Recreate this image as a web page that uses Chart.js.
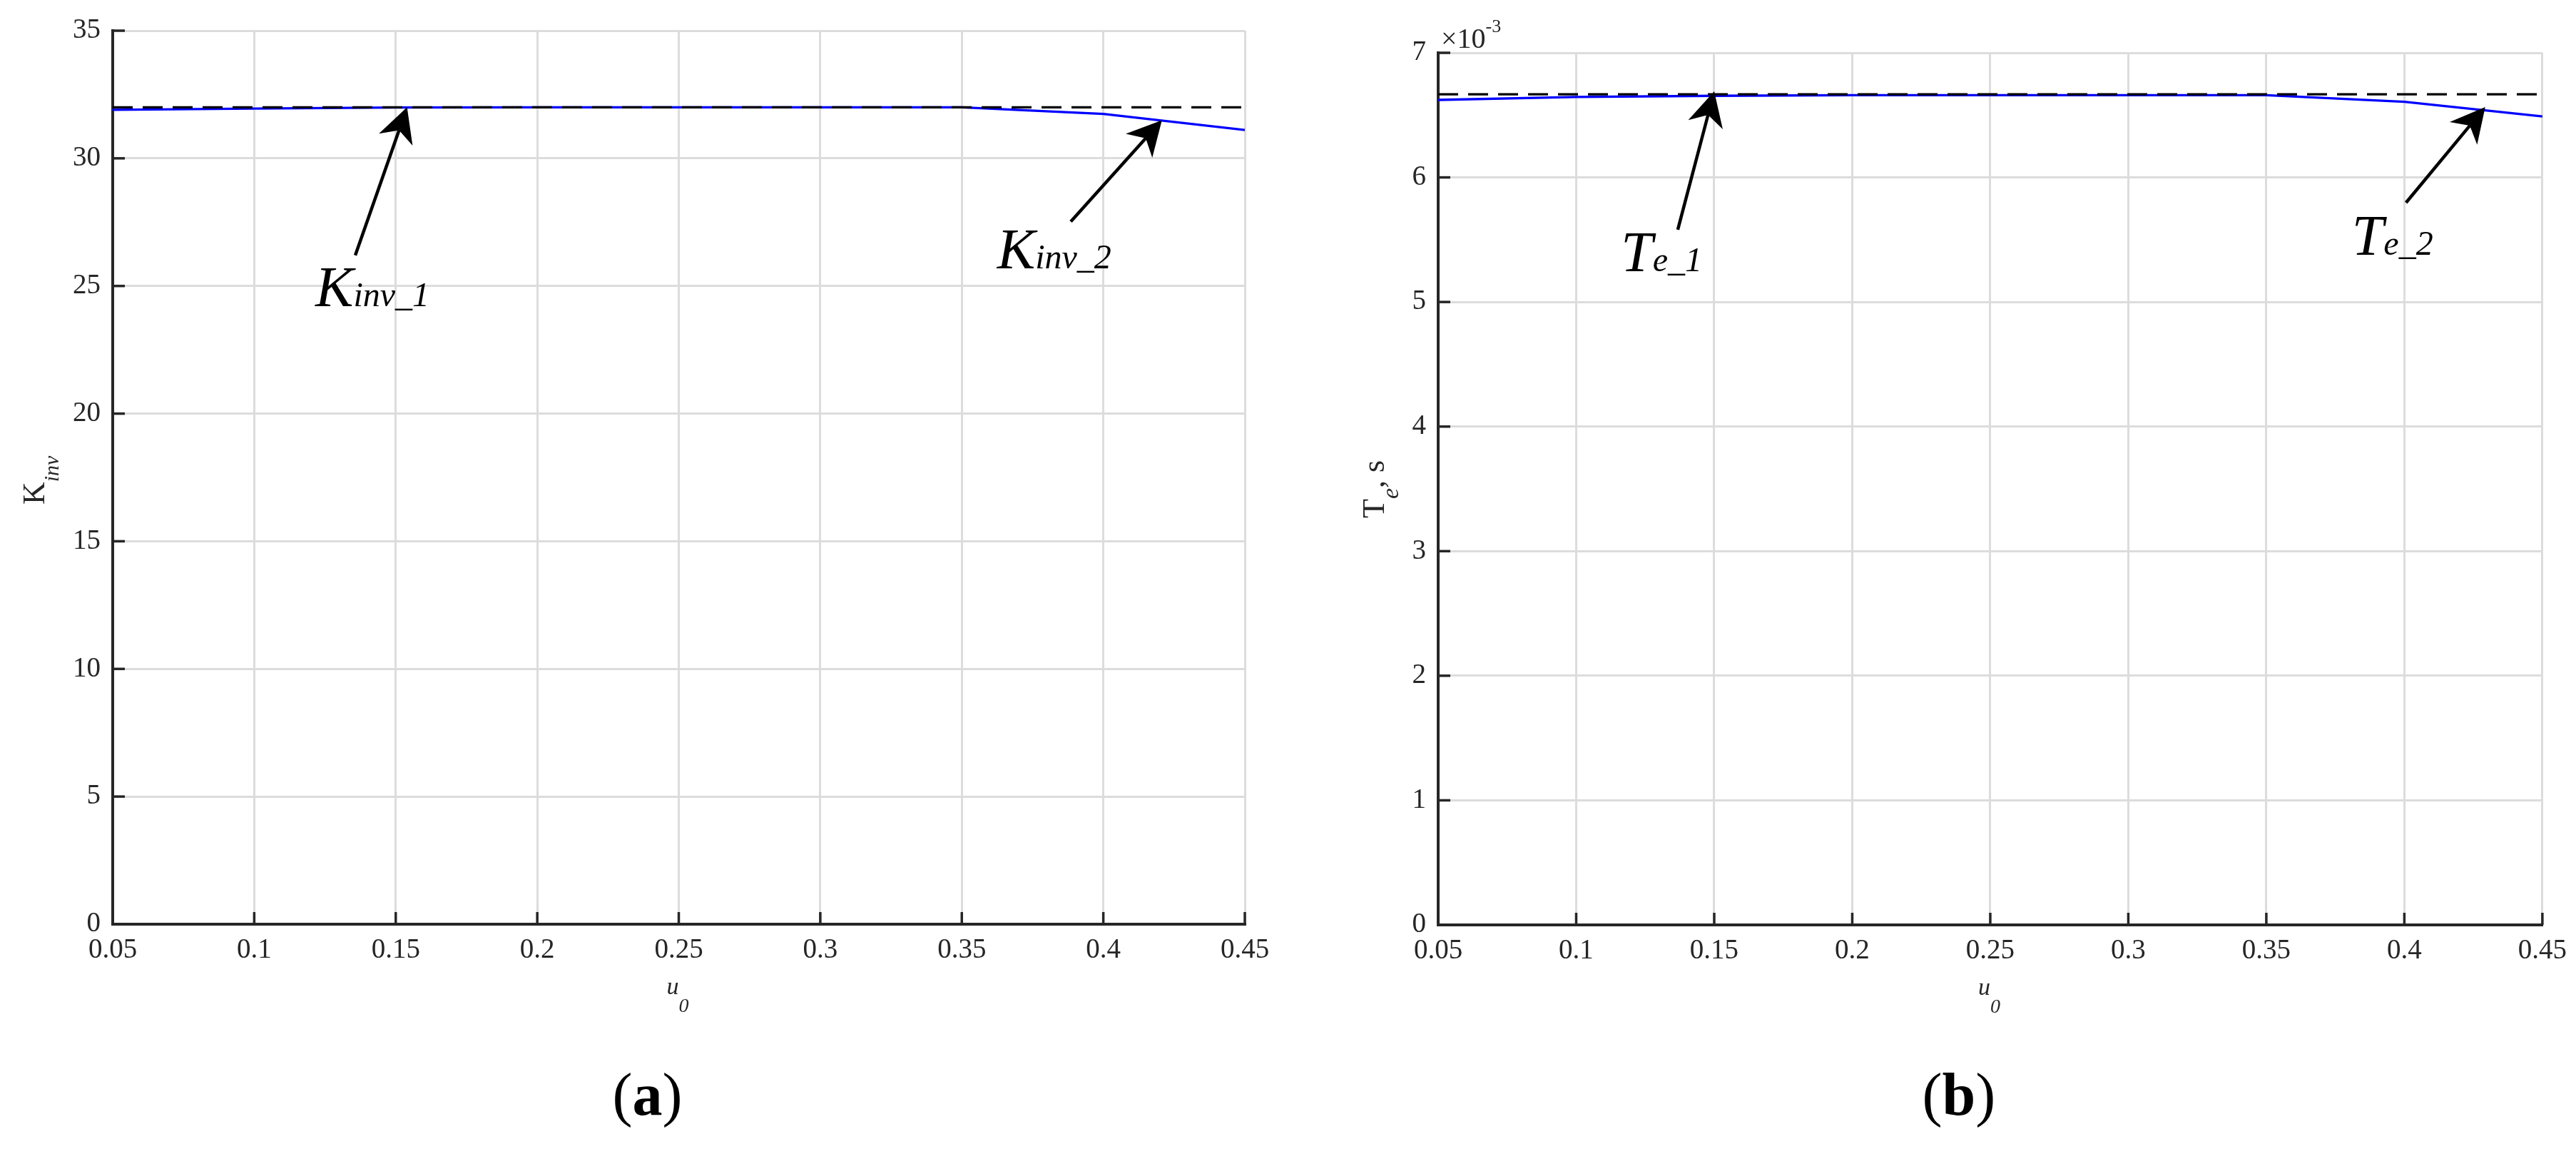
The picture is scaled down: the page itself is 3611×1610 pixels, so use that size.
<!DOCTYPE html>
<html>
<head>
<meta charset="utf-8">
<script src="https://cdn.jsdelivr.net/npm/chart.js@4.4.0/dist/chart.umd.min.js"></script>
<style>
  html, body { margin: 0; padding: 0; background: #fff; }
  #wrap { position: relative; width: 3611px; height: 1610px; }
  canvas { position: absolute; left: 0; top: 0; }
</style>
</head>
<body>
<div id="wrap">
  <canvas id="chartA" width="3611" height="1610"></canvas>
  <canvas id="chartB" width="3611" height="1610"></canvas>
</div>
<script>
// sampled operating points u0
const u0 = [0.05, 0.1, 0.15, 0.2, 0.25, 0.3, 0.35, 0.4, 0.45]
// (a) inverter gain, computed vs reference
const kinvValues = [31.90, 31.95, 31.99, 32.0, 32.0, 32.0, 32.0, 31.74, 31.11]
const kinvRef = 32
// (b) equivalent time constant, in units of 1e-3 s
const teValues = [6.622, 6.645, 6.655, 6.66, 6.66, 6.66, 6.66, 6.607, 6.489]
const teRef = 6.667

const u0Ticks = [0.05, 0.1, 0.15, 0.2, 0.25, 0.3, 0.35, 0.4, 0.45]
const kinvTicks = [0, 5, 10, 15, 20, 25, 30, 35]
const teTicks = [0, 1, 2, 3, 4, 5, 6, 7]

const SERIF = '"Liberation Serif", "Times New Roman", serif'
const INK = '#262626'
const GRID = '#dcdcdc'

function font(spec) {
  return spec + ' ' + SERIF
}

// draw a run of text pieces (for sub/superscripts), optionally rotated
function drawParts(ctx, parts, x, y, opts = {}) {
  ctx.save()
  ctx.translate(x, y)
  if (opts.rotate) ctx.rotate(opts.rotate)
  ctx.textBaseline = 'alphabetic'
  ctx.textAlign = 'left'
  let total = 0
  parts.forEach(p => { ctx.font = font(p.f); total += ctx.measureText(p.t).width })
  let cx = opts.center ? -total / 2 : 0
  parts.forEach(p => {
    ctx.font = font(p.f)
    ctx.fillStyle = p.color || '#000'
    ctx.fillText(p.t, cx, p.dy || 0)
    cx += ctx.measureText(p.t).width
  })
  ctx.restore()
}

function drawArrow(ctx, x0, y0, x1, y1) {
  const len = Math.hypot(x1 - x0, y1 - y0)
  const ux = (x1 - x0) / len, uy = (y1 - y0) / len
  const px = -uy, py = ux
  const headLen = 48, halfW = 25, notch = 34
  ctx.save()
  ctx.strokeStyle = '#000'
  ctx.fillStyle = '#000'
  ctx.lineWidth = 4.5
  ctx.beginPath()
  ctx.moveTo(x0, y0)
  ctx.lineTo(x1 - ux * notch, y1 - uy * notch)
  ctx.stroke()
  ctx.beginPath()
  ctx.moveTo(x1, y1)
  ctx.lineTo(x1 - ux * headLen + px * halfW, y1 - uy * headLen + py * halfW)
  ctx.lineTo(x1 - ux * notch, y1 - uy * notch)
  ctx.lineTo(x1 - ux * headLen - px * halfW, y1 - uy * headLen - py * halfW)
  ctx.closePath()
  ctx.fill()
  ctx.restore()
}

// ticks inside the axes, arrows with labels, axis titles, caption
function decor(opt) {
  return {
    id: 'decor',
    afterDraw(chart) {
      const { ctx, chartArea: a, scales: { x, y } } = chart
      ctx.save()
      ctx.strokeStyle = INK
      ctx.lineWidth = 3.5
      y.ticks.forEach(t => {
        const py = y.getPixelForValue(t.value)
        ctx.beginPath(); ctx.moveTo(a.left, py); ctx.lineTo(a.left + 17, py); ctx.stroke()
      })
      x.ticks.forEach(t => {
        const px = x.getPixelForValue(t.value)
        ctx.beginPath(); ctx.moveTo(px, a.bottom); ctx.lineTo(px, a.bottom - 17); ctx.stroke()
      })
      ctx.restore()

      opt.notes.forEach(n => {
        drawArrow(ctx, x.getPixelForValue(n.tail[0]), y.getPixelForValue(n.tail[1]),
          x.getPixelForValue(n.tip[0]), y.getPixelForValue(n.tip[1]))
        drawParts(ctx, [
          { t: n.name, f: 'italic 80px' },
          { t: n.sub, f: 'italic 48px' }
        ], x.getPixelForValue(n.at[0]), y.getPixelForValue(n.at[1]))
      })

      const cx = (a.left + a.right) / 2
      const cy = (a.top + a.bottom) / 2
      // y axis title
      drawParts(ctx, opt.yTitle, a.left - opt.yTitleGap, cy + opt.yTitleShift, { rotate: -Math.PI / 2 })
      // x axis title u0
      drawParts(ctx, [
        { t: 'u', f: 'italic 34px', color: INK },
        { t: '0', f: 'italic 28px', dy: 25, color: INK }
      ], cx - 17, a.bottom + 98)
      // panel caption
      drawParts(ctx, [
        { t: '(', f: '84px' },
        { t: opt.caption, f: 'bold 84px' },
        { t: ')', f: '84px' }
      ], cx - 44, 1562, { center: true })
      if (opt.exponent) {
        drawParts(ctx, [
          { t: '×10', f: '40px', color: INK },
          { t: '-3', f: '26px', dy: -22, color: INK }
        ], a.left + 4, a.top - 7)
      }
    }
  }
}

function makeChart(id, opt) {
  const tickFont = { family: SERIF, size: 39 }
  return new Chart(document.getElementById(id), {
    type: 'line',
    data: {
      datasets: [
        {
          label: 'reference',
          data: [{ x: u0[0], y: opt.ref }, { x: u0[u0.length - 1], y: opt.ref }],
          borderColor: '#000',
          borderWidth: 3.3,
          borderDash: [28, 14],
          pointRadius: 0,
          order: 0
        },
        {
          label: 'computed',
          data: u0.map((v, i) => ({ x: v, y: opt.values[i] })),
          borderColor: '#0000ff',
          borderWidth: 3.3,
          pointRadius: 0,
          tension: 0,
          order: 1
        }
      ]
    },
    options: {
      responsive: false,
      animation: false,
      events: [],
      layout: { padding: opt.padding },
      plugins: { legend: { display: false }, tooltip: { enabled: false } },
      scales: {
        x: {
          type: 'linear',
          min: 0.05,
          max: 0.45,
          afterBuildTicks: s => { s.ticks = u0Ticks.map(v => ({ value: v })) },
          afterFit: s => { s.height = 100 },
          grid: { color: GRID, lineWidth: 3, drawTicks: false },
          border: { color: INK, width: 4 },
          ticks: {
            font: tickFont, color: INK, padding: 13, maxRotation: 0, autoSkip: false,
            callback: v => String(+v.toFixed(2))
          }
        },
        y: {
          type: 'linear',
          min: opt.ticks[0],
          max: opt.ticks[opt.ticks.length - 1],
          afterBuildTicks: s => { s.ticks = opt.ticks.map(v => ({ value: v })) },
          afterFit: s => { s.width = opt.yWidth },
          grid: { color: GRID, lineWidth: 3, drawTicks: false },
          border: { color: INK, width: 4 },
          ticks: { font: tickFont, color: INK, padding: 17, autoSkip: false }
        }
      }
    },
    plugins: [decor(opt)]
  })
}

makeChart('chartA', {
  values: kinvValues,
  ref: kinvRef,
  ticks: kinvTicks,
  yWidth: 158,
  padding: { left: 0, top: 43, right: 1866, bottom: 215 },
  caption: 'a',
  yTitle: [
    { t: 'K', f: '44px', color: INK },
    { t: 'inv', f: 'italic 30px', dy: 20, color: INK }
  ],
  yTitleGap: 96,
  yTitleShift: 38,
  notes: [
    { name: 'K', sub: 'inv_1', at: [0.1216, 24.22], tail: [0.1357, 26.2], tip: [0.154, 32.0] },
    { name: 'K', sub: 'inv_2', at: [0.3625, 25.70], tail: [0.3885, 27.52], tip: [0.4207, 31.49] }
  ]
})

makeChart('chartB', {
  values: teValues,
  ref: teRef,
  ticks: teTicks,
  yWidth: 200,
  padding: { left: 1816, top: 74, right: 47, bottom: 214 },
  caption: 'b',
  exponent: true,
  yTitle: [
    { t: 'T', f: '44px', color: INK },
    { t: 'e', f: 'italic 34px', dy: 20, color: INK },
    { t: ', s', f: '44px', color: INK }
  ],
  yTitleGap: 76,
  yTitleShift: 41,
  notes: [
    { name: 'T', sub: 'e_1', at: [0.1162, 5.247], tail: [0.1368, 5.58], tip: [0.15, 6.69] },
    { name: 'T', sub: 'e_2', at: [0.381, 5.379], tail: [0.4006, 5.797], tip: [0.4293, 6.565] }
  ]
})
</script>
</body>
</html>
